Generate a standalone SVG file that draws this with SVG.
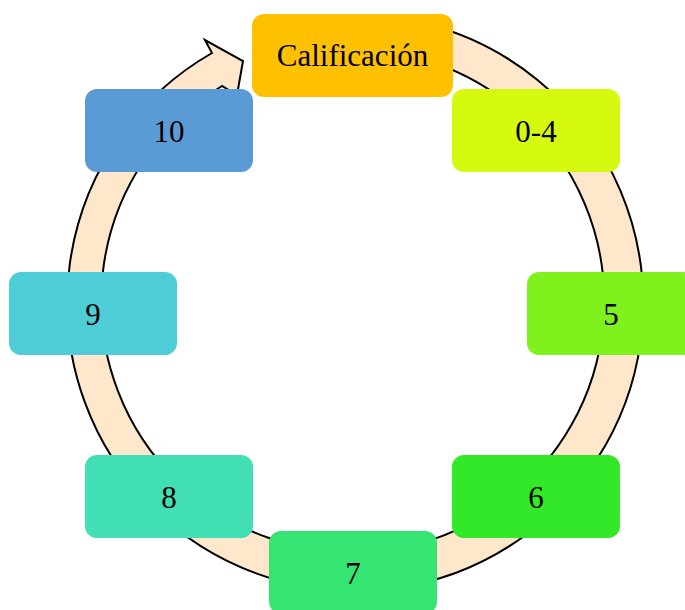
<svg xmlns="http://www.w3.org/2000/svg" width="685" height="610" viewBox="0 0 685 610">
<style>
.ring{fill:#FFE7CC;stroke:#000;stroke-width:2;stroke-linejoin:miter}
.box{stroke:none}
.lbl{font-family:"Liberation Serif","Times New Roman",serif;font-size:31px;fill:#000;text-anchor:middle}
</style>
<rect width="685" height="610" fill="#fff"/>
<g id="connectors">
<path class="ring" d="M 427 24 A 288 288 0 1 1 212 53 L 205 40 L 243 61 L 237 95 L 222 86 A 251.5 251.5 0 1 0 418 58 Z"/>
</g>
<g id="node-calificacion"><rect class="box" x="252" y="14" width="201" height="83" rx="12" fill="#FFC000"/><text class="lbl" x="352.5" y="66">Calificación</text></g>
<g id="node-0-4"><rect class="box" x="452" y="89" width="168" height="83" rx="12" fill="#D5F90F"/><text class="lbl" x="536" y="141.5">0-4</text></g>
<g id="node-5"><rect class="box" x="527" y="272" width="168" height="83" rx="12" fill="#7FF21E"/><text class="lbl" x="611" y="324.5">5</text></g>
<g id="node-6"><rect class="box" x="452" y="455" width="168" height="83" rx="12" fill="#33E828"/><text class="lbl" x="536" y="507.5">6</text></g>
<g id="node-7"><rect class="box" x="269" y="531" width="168" height="83" rx="12" fill="#36E571"/><text class="lbl" x="353" y="583.5">7</text></g>
<g id="node-8"><rect class="box" x="85" y="455" width="168" height="83" rx="12" fill="#43DFB4"/><text class="lbl" x="169" y="507.5">8</text></g>
<g id="node-9"><rect class="box" x="9" y="272" width="168" height="83" rx="12" fill="#4ECCD8"/><text class="lbl" x="93" y="324.5">9</text></g>
<g id="node-10"><rect class="box" x="85" y="89" width="168" height="83" rx="12" fill="#5B9BD5"/><text class="lbl" x="169" y="141.5">10</text></g>
</svg>
